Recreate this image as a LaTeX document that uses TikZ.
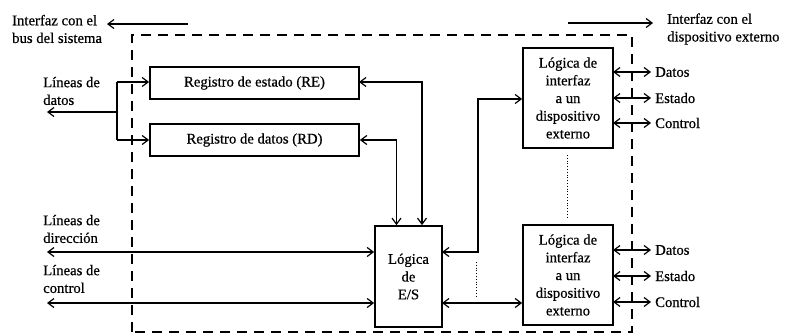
\documentclass[tikz,border=0pt]{standalone}
\usepackage{fontspec}
\setmainfont{Liberation Serif}
\newfontfamily\dfont[FakeBold=0.6]{Liberation Serif}
\usetikzlibrary{arrows.meta}
\begin{document}
\begin{tikzpicture}[x=1pt,y=-1pt,
  every node/.style={font=\dfont\fontsize{14.7}{17.7}\selectfont},
  blk/.style={draw,line width=1.8pt,inner sep=0pt,align=center},
  conn/.style={line width=1.2pt,-{Straight Barb[length=6pt,width=9pt]}},
  bconn/.style={line width=1.2pt,{Straight Barb[length=6pt,width=9pt]}-{Straight Barb[length=6pt,width=9pt]}},
  lbl/.style={align=left,inner sep=0pt,anchor=west},
  dashbox/.style={line width=1.3pt,dash pattern=on 10pt off 7pt},
  dots/.style={line width=0.8pt,dotted}]
\useasboundingbox (0,0) rectangle (786,335);
% dashed boundary
\draw[dashbox] (132,332) -- (132,35) -- (632,35) -- (632,332) -- cycle;
% blocks
\node[blk,minimum width=209pt,minimum height=32pt] (RE) at (254.5,83) {Registro de estado (RE)};
\node[blk,minimum width=209pt,minimum height=32pt] (RD) at (254.5,140) {Registro de datos (RD)};
\node[blk,minimum width=67pt,minimum height=101pt] (ES) at (408.5,276.5) {Lógica\\de\\E/S};
\node[blk,minimum width=90pt,minimum height=100pt] (IF1) at (568,98) {Lógica de\\interfaz\\a un\\dispositivo\\externo};
\node[blk,minimum width=90pt,minimum height=100pt] (IF2) at (568,275) {Lógica de\\interfaz\\a un\\dispositivo\\externo};
% labels
\node[lbl] (tl) at (12,29) {Interfaz con el\\bus del sistema};
\node[lbl] (tr) at (667,29) {Interfaz con el\\dispositivo externo};
\node[lbl] (ld) at (43,91) {Líneas de\\datos};
\node[lbl] (ldir) at (43,229) {Líneas de\\dirección};
\node[lbl] (lc) at (43,279) {Líneas de\\control};
% top arrows
\coordinate (tla) at (188,24); \coordinate (tlb) at (107,24);
\draw[conn] (tla) -- (tlb);
\coordinate (tra) at (568,23); \coordinate (trb) at (653,23);
\draw[conn] (tra) -- (trb);
% data lines
\coordinate (j1) at (117,82); \coordinate (j2) at (117,140); \coordinate (jm) at (117,112); \coordinate (dl) at (47,112);
\draw[line width=1.2pt] (j1) -- (j2);
\draw[conn] (jm) -- (dl);
\draw[conn] (j1) -- (j1 -| RE.west);
\draw[conn] (j2) -- (j2 -| RD.west);
% registers to E/S
\coordinate (reR) at (359,82);
\draw[bconn] (reR) -| ([xshift=13.5pt]ES.north);
\draw[bconn] (RD.east) -| ([xshift=-12pt]ES.north);
% E/S to IF1
\coordinate (esa) at (442,252);
\coordinate (ifa) at (478,99);
\draw[bconn] (esa) -| (ifa) -- (ifa -| IF1.west);
% E/S to IF2
\coordinate (esb) at (442,303);
\draw[bconn] (esb) -- (esb -| IF2.west);
% address and control lines
\coordinate (dirL) at (47,252); \coordinate (ctlL) at (47,303);
\draw[bconn] (dirL) -- (dirL -| ES.west);
\draw[bconn] (ctlL) -- (ctlL -| ES.west);
% external lines
\foreach \y/\n/\t in {72/a1/Datos,98/a2/Estado,123/a3/Control,250/b1/Datos,276/b2/Estado,302/b3/Control}{
  \coordinate (s\n) at (613,\y);
  \node[lbl] (t\n) at (655,\y) {\t};
  \draw[bconn] (s\n) -- ([xshift=-4pt]t\n.west);
}
% dotted
\coordinate (d1) at (567,155); \coordinate (d2) at (567,218);
\draw[dots] (d1) -- (d2);
\coordinate (d3) at (476,262); \coordinate (d4) at (476,297);
\draw[dots] (d3) -- (d4);
\end{tikzpicture}
\end{document}
